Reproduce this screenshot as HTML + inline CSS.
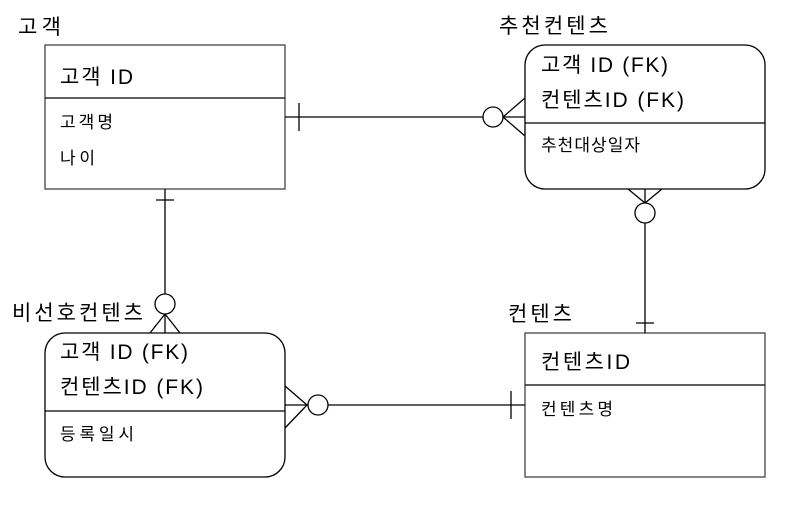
<!DOCTYPE html>
<html><head><meta charset="utf-8"><style>
body{margin:0;background:#fff}
svg text{font-family:"Liberation Sans","Noto Sans CJK KR",sans-serif;fill:#000}
</style></head><body>
<svg width="788" height="506" viewBox="0 0 788 506" xmlns="http://www.w3.org/2000/svg">
<g fill="none" stroke="#000" stroke-width="1.3">
<rect x="45" y="45" width="240" height="144" stroke="#444"/>
<line x1="45" y1="98" x2="285" y2="98"/>
<rect x="525" y="45" width="240" height="144" rx="20"/>
<line x1="525" y1="123" x2="765" y2="123"/>
<rect x="525" y="333" width="240" height="144" stroke="#444"/>
<line x1="525" y1="385" x2="765" y2="385"/>
<rect x="45" y="333" width="240" height="144" rx="20"/>
<line x1="45" y1="411" x2="285" y2="411"/>
<line x1="285" y1="117" x2="525" y2="117"/>
<line x1="299" y1="103" x2="299" y2="131"/>
<circle cx="493" cy="117" r="10" fill="#fff"/>
<line x1="503" y1="117" x2="525" y2="98"/>
<line x1="503" y1="117" x2="525" y2="136"/>
<line x1="645" y1="189" x2="645" y2="333"/>
<line x1="628" y1="189" x2="645" y2="203"/>
<line x1="662" y1="189" x2="645" y2="203"/>
<circle cx="645" cy="213" r="10" fill="#fff"/>
<line x1="636" y1="323" x2="654" y2="323"/>
<line x1="165" y1="189" x2="165" y2="333"/>
<line x1="156" y1="200" x2="174" y2="200"/>
<circle cx="165" cy="304" r="10" fill="#fff"/>
<line x1="165" y1="314" x2="150" y2="333"/>
<line x1="165" y1="314" x2="180" y2="333"/>
<line x1="285" y1="405" x2="525" y2="405"/>
<line x1="285" y1="386" x2="307" y2="405"/>
<line x1="285" y1="428" x2="307" y2="405"/>
<circle cx="318" cy="405" r="10" fill="#fff"/>
<line x1="511" y1="391" x2="511" y2="419"/>
</g>
<g lengthAdjust="spacingAndGlyphs">
<text x="18" y="34" font-size="21" textLength="43">고객</text>
<text x="60" y="84" font-size="21" textLength="73">고객 ID</text>
<text x="60" y="128" font-size="17" textLength="53">고객명</text>
<text x="60" y="164" font-size="17" textLength="35">나이</text>
<text x="499" y="33" font-size="21" textLength="109">추천컨텐츠</text>
<text x="541" y="72" font-size="21" textLength="127">고객 ID (FK)</text>
<text x="541" y="107" font-size="21" textLength="143">컨텐츠ID (FK)</text>
<text x="541" y="151" font-size="17" textLength="99">추천대상일자</text>
<text x="508" y="321" font-size="21" textLength="64">컨텐츠</text>
<text x="541" y="369" font-size="21" textLength="89">컨텐츠ID</text>
<text x="541" y="415" font-size="17" textLength="72">컨텐츠명</text>
<text x="12" y="320" font-size="21" textLength="131">비선호컨텐츠</text>
<text x="60" y="359" font-size="21" textLength="128">고객 ID (FK)</text>
<text x="60" y="394" font-size="21" textLength="143">컨텐츠ID (FK)</text>
<text x="60" y="440" font-size="17" textLength="74">등록일시</text>
</g>
</svg>
</body></html>
